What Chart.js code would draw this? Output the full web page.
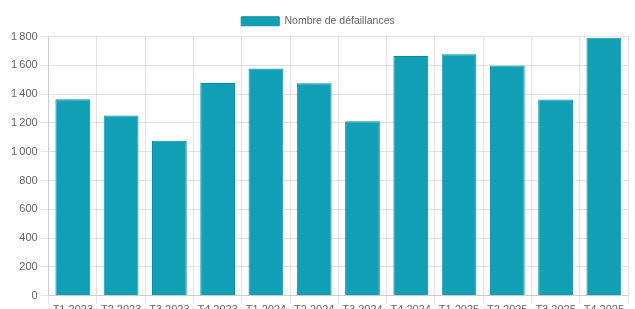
<!DOCTYPE html>
<html>
<head>
<meta charset="utf-8">
<script src="https://cdn.jsdelivr.net/npm/chart.js@4/dist/chart.umd.min.js"></script>
<style>
  html, body { margin: 0; padding: 0; background: #fff; overflow: hidden; }
  .wrap { position: absolute; left: 0; top: 6px; width: 635px; height: 311px; }
</style>
</head>
<body>
<div class="wrap"><canvas id="canvas_chart"></canvas></div>
<script>
const labels = ['T1 2023', 'T2 2023', 'T3 2023', 'T4 2023', 'T1 2024', 'T2 2024',
                'T3 2024', 'T4 2024', 'T1 2025', 'T2 2025', 'T3 2025', 'T4 2025'];
const defaillances = [1364, 1252, 1077, 1478, 1578, 1476, 1212, 1664, 1676, 1599, 1362, 1792];

Chart.defaults.font.family = 'Arial, "Liberation Sans", sans-serif';
Chart.defaults.font.size = 11;
Chart.defaults.color = '#666';

const ctx = document.getElementById('canvas_chart');

new Chart(ctx, {
    type: 'bar',
    data: {
        labels: labels,
        datasets: [{
            label: 'Nombre de défaillances',
            data: defaillances,
            backgroundColor: '#119fb6',
            borderColor: '#0f8ea3',
            borderWidth: 1
        }]
    },
    options: {
        responsive: true,
        maintainAspectRatio: false,
        animation: false,
        locale: 'fr-FR',
        layout: {
            padding: { left: 8, right: 7 }
        },
        scales: {
            y: {
                beginAtZero: true
            },
            x: {
                ticks: { maxRotation: 0, padding: 0 }
            }
        },
        plugins: {
            legend: {
                labels: { boxWidth: 38, boxHeight: 9, font: { size: 10.5 } }
            }
        }
    }
});
</script>
</body>
</html>
